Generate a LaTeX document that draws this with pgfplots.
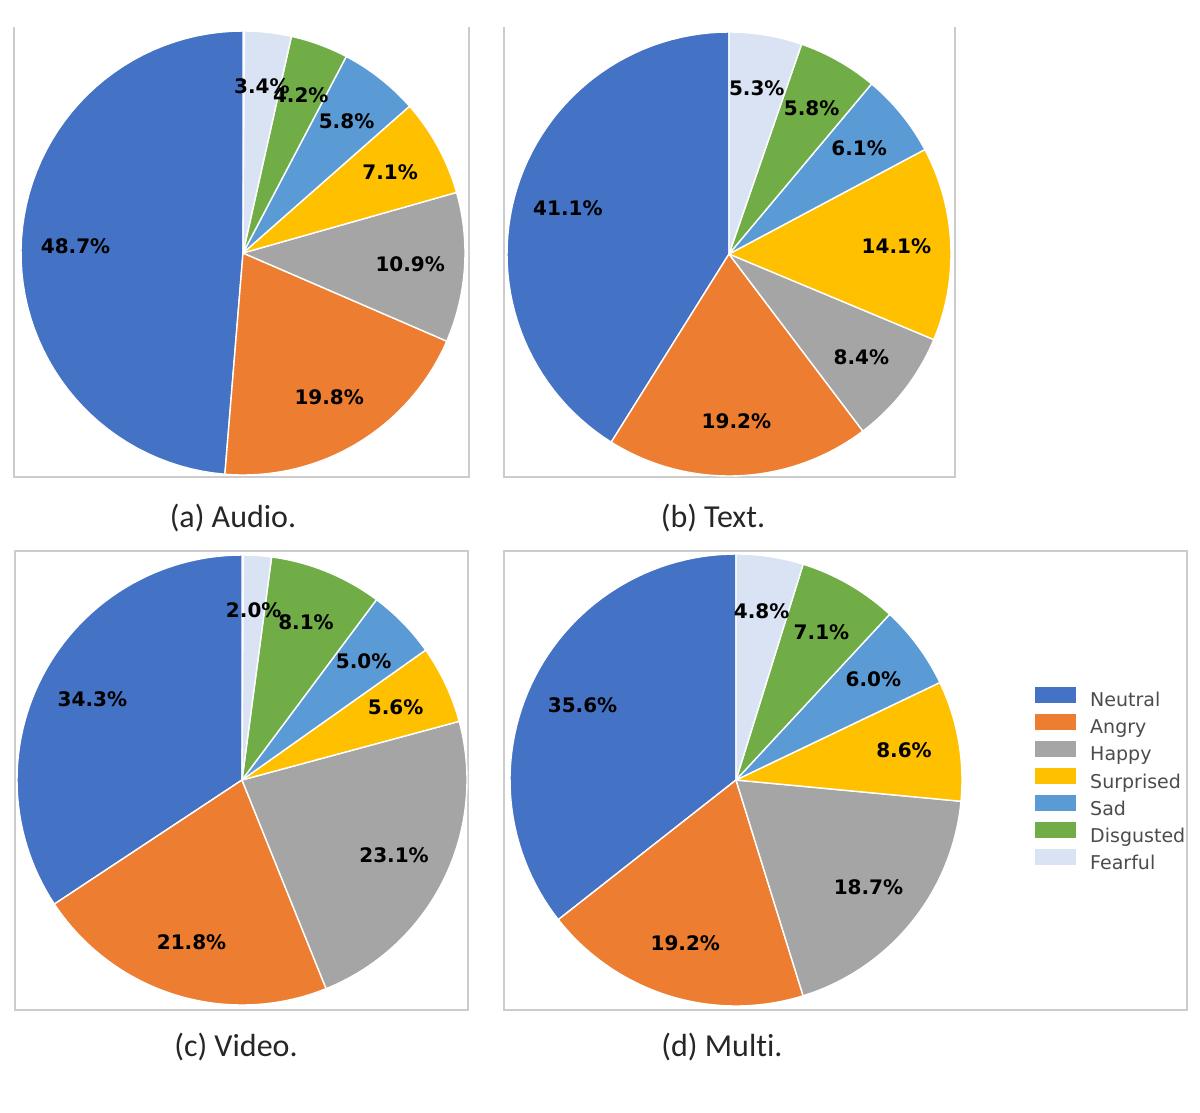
\documentclass[border=0pt]{standalone}
\usepackage{fontspec}
\setmainfont{Carlito}[Ligatures=NoCommon]
\newfontfamily\djv{DejaVu Sans}
\usepackage{xcolor}
\usepackage{pgfplots}
\pgfplotsset{compat=1.18}

\definecolor{cNeutral}{HTML}{4472C4}
\definecolor{cAngry}{HTML}{ED7D31}
\definecolor{cHappy}{HTML}{A5A5A5}
\definecolor{cSurprised}{HTML}{FFC000}
\definecolor{cSad}{HTML}{5B9BD5}
\definecolor{cDisgusted}{HTML}{70AD47}
\definecolor{cFearful}{HTML}{DAE3F3}
\definecolor{framegray}{HTML}{CCCCCC}

\newcommand\pctfont{\djv\bfseries\fontsize{10}{12}\selectfont}
\newcommand\legfont{\djv\fontsize{9.5}{11}\selectfont}
\newcommand\capfont{\fontsize{16}{19}\selectfont}

% #1 cx, #2 cy, #3 radius (axis units), #4 list pct/colour, counter-clockwise from 90 deg
\newcommand\drawpie[4]{%
  \xdef\pacc{90}%
  \foreach \pv/\pc in {#4} {%
    \pgfmathsetmacro\pa{\pacc}%
    \pgfmathsetmacro\pb{\pacc+3.6*\pv}%
    \edef\tmp{\noexpand\addplot[forget plot, fill=\pc, draw=white, line width=0.7pt,
      line join=round, domain=\pa:\pb, samples=60, variable=\noexpand\t]
      ({#1+#3*cos(\noexpand\t)},{#2+#3*sin(\noexpand\t)}) -- (axis cs:#1,#2) -- cycle;}%
    \tmp
    \xdef\pacc{\pb}%
  }%
  \xdef\pacc{90}%
  \foreach \pv/\pc in {#4} {%
    \pgfmathsetmacro\pmid{\pacc+1.8*\pv}%
    \pgfmathsetmacro\px{#1+0.755*#3*cos(\pmid)}%
    \pgfmathsetmacro\py{#2+0.755*#3*sin(\pmid)}%
    \edef\tmp{\noexpand\node[font=\noexpand\pctfont, text=black, inner sep=0pt]
      at (axis cs:\px,\py) {\pv\noexpand\%};}%
    \tmp
    \pgfmathsetmacro\pb{\pacc+3.6*\pv}%
    \xdef\pacc{\pb}%
  }%
}

\pgfplotsset{pieax/.style={hide axis, scale only axis, clip=false,
  anchor=north west, xmin=0, ymin=0}}

\begin{document}
\begin{tikzpicture}[x=0.5pt, y=-0.5pt]
\fill[white] (0,0) rectangle (1200,1113);

% panel frames
\draw[framegray, line width=0.9pt] (14,27) -- (14,477) -- (469,477) -- (469,27);
\draw[framegray, line width=0.9pt] (504,27) -- (504,477) -- (955,477) -- (955,27);
\draw[framegray, line width=0.9pt] (15,551) rectangle (468,1010);
\draw[framegray, line width=0.9pt] (504,551) rectangle (1187,1010);

% (a) Audio
\begin{axis}[pieax, at={(7pt,-13.5pt)}, width=227.5pt, height=225pt, xmax=455, ymax=450]
\drawpie{229}{224}{222}{48.7/cNeutral, 19.8/cAngry, 10.9/cHappy, 7.1/cSurprised,
  5.8/cSad, 4.2/cDisgusted, 3.4/cFearful}
\end{axis}

% (b) Text
\begin{axis}[pieax, at={(252pt,-13.5pt)}, width=225.5pt, height=225pt, xmax=451, ymax=450]
\drawpie{225}{223}{222}{41.1/cNeutral, 19.2/cAngry, 8.4/cHappy, 14.1/cSurprised,
  6.1/cSad, 5.8/cDisgusted, 5.3/cFearful}
\end{axis}

% (c) Video
\begin{axis}[pieax, at={(7.5pt,-275.5pt)}, width=226.5pt, height=229.5pt, xmax=453, ymax=459]
\drawpie{227}{230}{225}{34.3/cNeutral, 21.8/cAngry, 23.1/cHappy, 5.6/cSurprised,
  5.0/cSad, 8.1/cDisgusted, 2.0/cFearful}
\end{axis}

% (d) Multi, with legend
\begin{axis}[pieax, at={(252pt,-275.5pt)}, width=341.5pt, height=229.5pt, xmax=683, ymax=459,
  legend style={at={(axis description cs:0.7775,0.705)}, anchor=north west,
    draw=none, fill=none, inner sep=0pt, font=\legfont, text=black!70,
    row sep=1.6pt, nodes={inner sep=0pt, text height=7pt, text depth=2pt},
    /tikz/every odd column/.style={column sep=7pt}},
  legend cell align=left,
  legend image code/.code={\fill[#1] (0pt,-0.25pt) rectangle (20pt,7.25pt);}]
\drawpie{232}{230}{226}{35.6/cNeutral, 19.2/cAngry, 18.7/cHappy, 8.6/cSurprised,
  6.0/cSad, 7.1/cDisgusted, 4.8/cFearful}
\addlegendimage{cNeutral}
\addlegendimage{cAngry}
\addlegendimage{cHappy}
\addlegendimage{cSurprised}
\addlegendimage{cSad}
\addlegendimage{cDisgusted}
\addlegendimage{cFearful}
\legend{Neutral, Angry, Happy, Surprised, Sad, Disgusted, Fearful}
\end{axis}

% captions
\node[anchor=base, font=\capfont, text=black!85] at (233,527) {(a) Audio.};
\node[anchor=base, font=\capfont, text=black!85] at (713,527) {(b) Text.};
\node[anchor=base, font=\capfont, text=black!85] at (236,1056) {(c) Video.};
\node[anchor=base, font=\capfont, text=black!85] at (722,1056) {(d) Multi.};
\end{tikzpicture}
\end{document}
